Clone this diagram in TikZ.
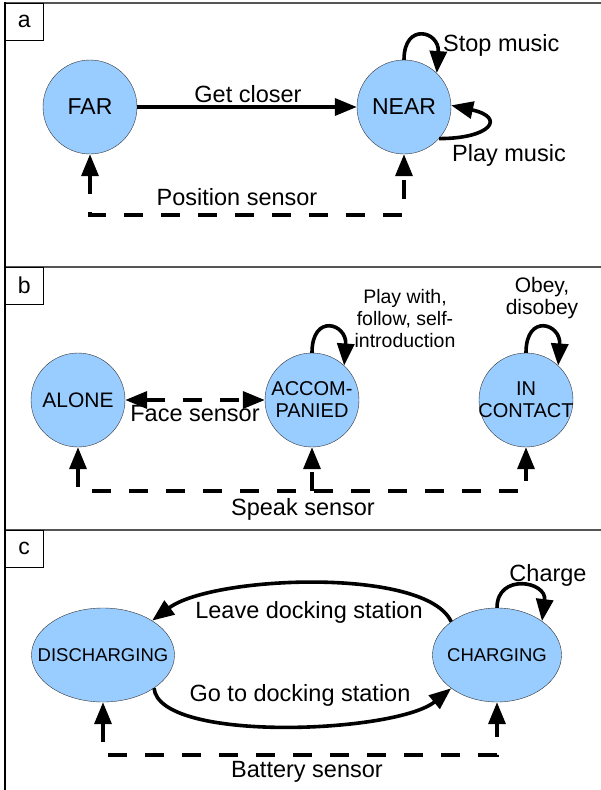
\documentclass[tikz,border=0pt]{standalone}
\usepackage{fontspec}
\setmainfont{Liberation Sans}
\usetikzlibrary{arrows.meta,shapes.geometric}

\definecolor{stateblue}{HTML}{99CCFF}
\definecolor{framegray}{HTML}{555555}

\newcommand\edgesize{\fontsize{23.5}{27}\selectfont}
\newcommand\notesize{\fontsize{19.5}{22}\selectfont}

\begin{document}
\begin{tikzpicture}[x=1pt,y=-1pt,>={Triangle[length=22pt,width=17pt]},
    state/.style={ellipse,draw=black!80,thin,fill=stateblue,
      inner xsep=-30pt,inner ysep=-4pt,
      minimum width=94pt,minimum height=94pt,align=center},
    trans/.style={line width=3.6pt,->},
    sensor/.style={line width=3.6pt,dash pattern=on 19pt off 18pt},
    tag/.style={draw,thin,anchor=north west,inner sep=0pt,
      minimum width=38pt,minimum height=37pt,font=\fontsize{23}{26}\selectfont}]

  \useasboundingbox (0,0) rectangle (600,790);
  \edgesize

  % frames of the three panels
  \draw[framegray,line width=2pt] (5,3) -- (602,3);
  \draw[framegray,line width=2pt] (5,266.5) -- (602,266.5);
  \draw[framegray,line width=2pt] (5,529.5) -- (602,529.5);
  \draw[black,line width=1.3pt] (5,2) -- (5,792);

  \node[tag] (tag a) at (5,3) {a};
  \node[tag] (tag b) at (5,266.5) {b};
  \node[tag] (tag c) at (5,529.5) {c};

  % panel a
  \coordinate (position line) at (0,215);

  \node[state,font=\fontsize{23}{26}\selectfont] (FAR)  at (90,107)  {FAR};
  \node[state,font=\fontsize{23}{26}\selectfont] (NEAR) at (404,107) {NEAR};

  \draw[trans] (FAR) -- (NEAR);
  \node[anchor=base] (get closer) at (248,102) {Get closer};

  \draw[trans] (NEAR.north) .. controls +(0,-38) and +(3,-42) .. (NEAR.46);
  \node[anchor=base west,inner sep=0pt] (stop music) at (443,51) {Stop music};

  \draw[trans] (NEAR.-42) .. controls +(52,0) and +(55,12) .. (NEAR.2);
  \node[anchor=base west,inner sep=0pt] (play music) at (452,161) {Play music};

  \draw[sensor,<->] (FAR.south) -- (FAR.south |- position line)
    -- (NEAR.south |- position line) -- (NEAR.south);
  \node[anchor=base] (position sensor) at (237,205) {Position sensor};

  % panel b
  \coordinate (speak line) at (0,491);

  \node[state,font=\fontsize{21}{24}\selectfont] (ALONE) at (78,400)  {ALONE};
  \node[state,font=\fontsize{20}{22}\selectfont] (ACCOM) at (312,400) {ACCOM-\\PANIED};
  \node[state,font=\fontsize{20}{22}\selectfont] (INC)   at (526,400) {IN\\CONTACT};

  \draw[sensor,<->] (ALONE.east) -- (ACCOM.west);
  \node[anchor=base] (face sensor) at (195,421) {Face sensor};

  \draw[trans] (ACCOM.north) .. controls +(0,-40) and +(3,-42) .. (ACCOM.47);
  \node[align=center,font=\notesize] (play with) at (405,319) {Play with,\\follow, self-\\introduction};

  \draw[trans] (INC.north) .. controls +(0,-40) and +(3,-42) .. (INC.47);
  \node[align=center,font=\fontsize{21}{22.5}\selectfont] (obey) at (542,298) {Obey,\\disobey};

  \draw[sensor,<->] (ALONE.south) -- (ALONE.south |- speak line)
    -- (INC.south |- speak line) -- (INC.south);
  \draw[sensor,->] (ACCOM.south |- speak line) -- (ACCOM.south);
  \node[anchor=base] (speak sensor) at (303,515) {Speak sensor};

  % panel c
  \coordinate (battery line) at (0,755);

  \node[state,minimum width=143pt,font=\fontsize{18.5}{21}\selectfont] (DIS) at (103,655) {DISCHARGING};
  \node[state,minimum width=129pt,font=\fontsize{18.5}{21}\selectfont] (CHG) at (497,655) {CHARGING};

  \draw[trans] (CHG.144) .. controls +(-25,-55) and +(60,-45) .. (DIS.35);
  \node[anchor=base] (leave) at (309,618) {Leave docking station};

  \draw[trans] (DIS.-33) .. controls +(5,55) and +(-55,45) .. (CHG.216);
  \node[anchor=base] (go to) at (300,701) {Go to docking station};

  \draw[trans] (CHG.north) .. controls +(0,-35) and +(5,-40) .. (CHG.37);
  \node[anchor=base] (charge) at (548,581) {Charge};

  \draw[sensor,<->] (DIS.south) -- (DIS.south |- battery line)
    -- (CHG.south |- battery line) -- (CHG.south);
  \node[anchor=base] (battery sensor) at (307,777) {Battery sensor};
\end{tikzpicture}
\end{document}
